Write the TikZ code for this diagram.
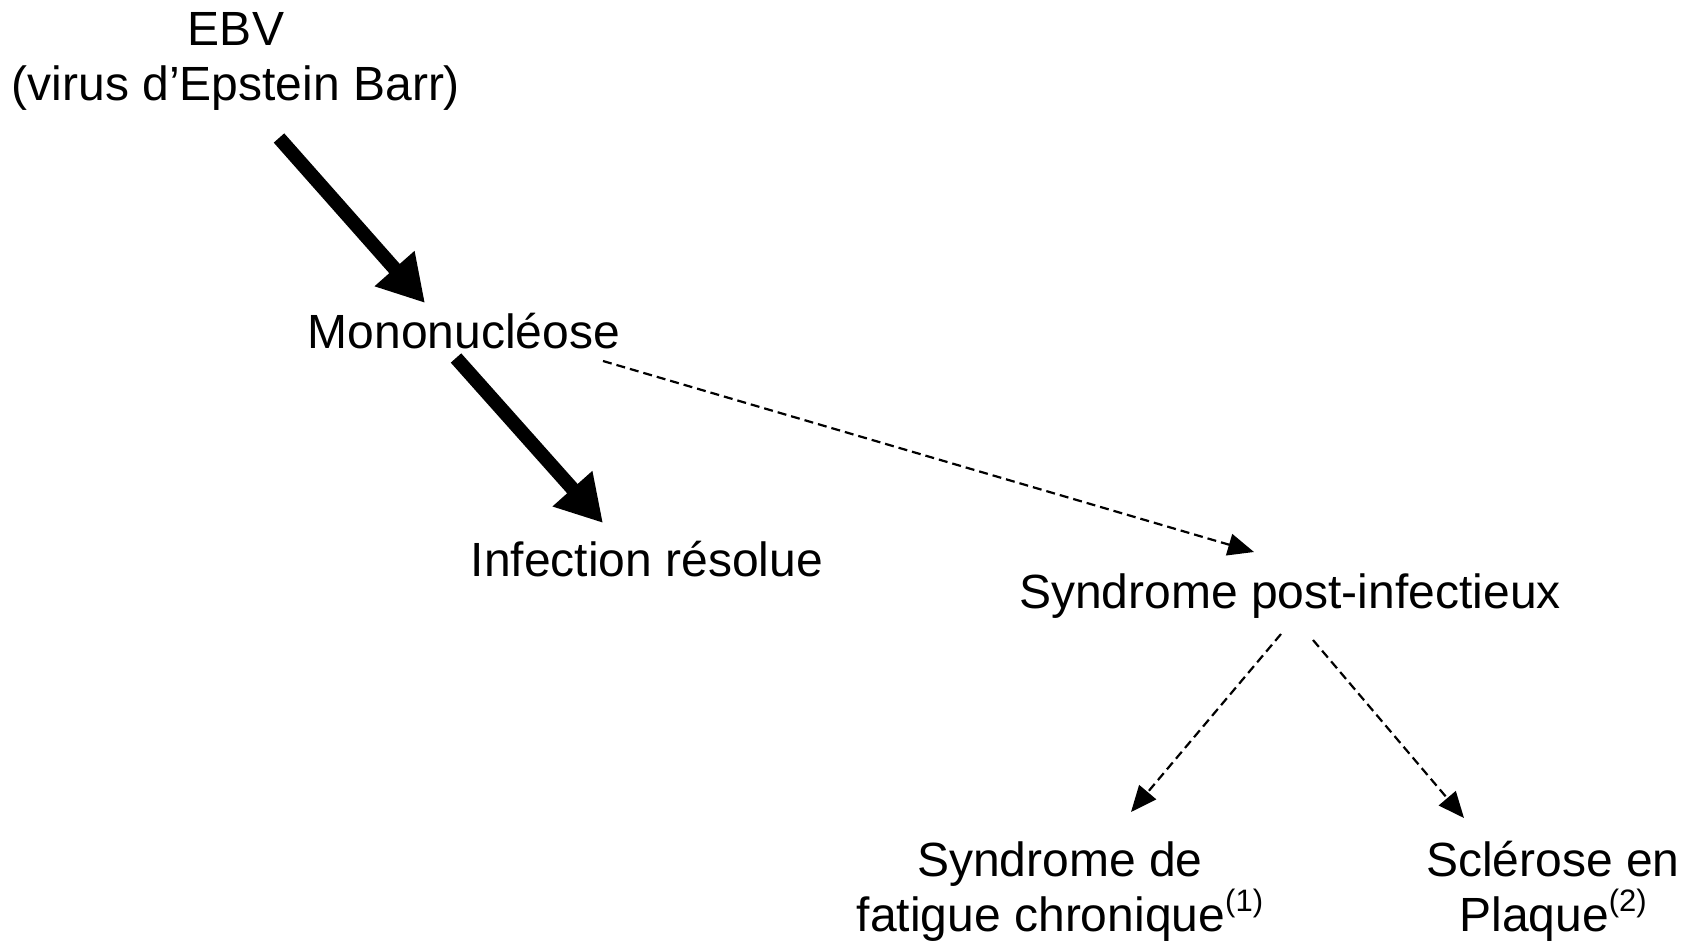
\documentclass[tikz,border=0pt]{standalone}
\usepackage{fontspec}
\setmainfont{Liberation Sans}
\usetikzlibrary{arrows.meta,calc}
\newcommand{\supr}[1]{\raisebox{0.40em}{\fontsize{31}{33}\selectfont #1}}
\begin{document}
\begin{tikzpicture}[x=1pt,y=-1pt,
  lbl/.style={inner sep=0pt, outer sep=0pt, font=\fontsize{48}{55}\selectfont, align=center},
  thickarrow/.style={line width=14pt, -{Triangle[length=46pt,width=50pt]}},
  dasharrow/.style={line width=2.2pt, dash pattern=on 9pt off 5pt, -{Triangle[length=26pt,width=22pt]}}]
\useasboundingbox (0,0) rectangle (1694,943);
\node[lbl, anchor=base] (ebv) at (236,100) {EBV\\(virus d’Epstein Barr)};
\node[lbl, anchor=base] (mono) at (464,348) {Mononucléose};
\node[lbl, anchor=base] (inf) at (647,576) {Infection résolue};
\node[lbl, anchor=base] (spi) at (1290,608) {Syndrome post-infectieux};
\node[lbl, anchor=base] (sfc) at (1060,931) {Syndrome de\\fatigue chronique\supr{(1)}};
\node[lbl, anchor=base] (sep) at (1553,931) {Sclérose en\\Plaque\supr{(2)}};
\draw[thickarrow] ($(ebv.base)+(43,38)$) -- ($(mono.base)+(-39,-45)$);
\draw[thickarrow] ($(mono.base)+(-8,10)$) -- ($(inf.base)+(-44,-53)$);
\draw[dasharrow] ($(mono.base)+(139,13)$) -- ($(spi.base)+(-36,-56)$);
\draw[dasharrow] ($(spi.base)+(-9,26)$) -- ($(sfc.base)+(71,-119)$);
\draw[dasharrow] ($(spi.base)+(23,32)$) -- ($(sep.base)+(-89,-113)$);
\end{tikzpicture}
\end{document}
